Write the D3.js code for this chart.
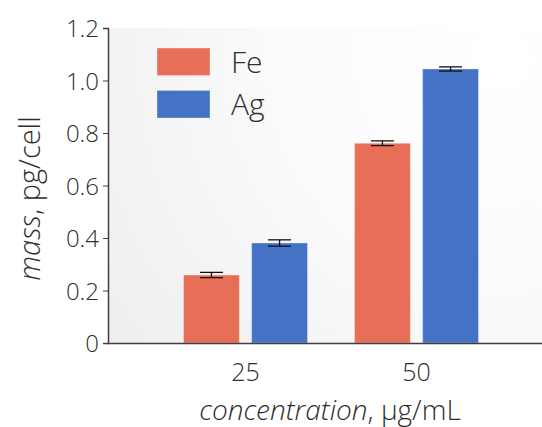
<!DOCTYPE html>
<html lang="en">
<head>
<meta charset="utf-8">
<title>mass per cell</title>
<script src="https://d3js.org/d3.v7.min.js"></script>
<style>
  body { margin: 0; background: #ffffff; }
  text { font-family: "Open Sans", sans-serif; font-weight: 300; fill: #2e2e2e; }
  .tick text { font-size: 24px; }
  .domain { stroke: #404040; stroke-width: 1.5px; }
  .tick line { stroke: #404040; }
  .legend text { font-size: 30px; }
</style>
</head>
<body>
<div id="chart"></div>
<script>
// data
const concentrations = ['25', '50'];
const series = ['Fe', 'Ag'];
const feMass = [0.259, 0.761];
const agMass = [0.381, 1.044];
const feErr = [0.010, 0.009];
const agErr = [0.012, 0.008];
const yTicks = [0, 0.2, 0.4, 0.6, 0.8, 1.0, 1.2];
const colours = ['#e76f58', '#4472c4'];

const W = 542, H = 427;
const plotLeft = 108, plotTop = 28, plotBottom = 343, plotRight = 542;

const svg = d3.select('#chart').append('svg')
  .attr('width', W).attr('height', H);

// background gradient of the plot area
const defs = svg.append('defs');
const grad = defs.append('radialGradient')
  .attr('id', 'bg').attr('gradientUnits', 'userSpaceOnUse')
  .attr('cx', 500).attr('cy', 60).attr('r', 480);
grad.append('stop').attr('offset', '0%').attr('stop-color', '#ffffff');
grad.append('stop').attr('offset', '45%').attr('stop-color', '#fbfbfb');
grad.append('stop').attr('offset', '100%').attr('stop-color', '#eeeeee');

svg.append('rect')
  .attr('x', plotLeft).attr('y', plotTop)
  .attr('width', plotRight - plotLeft).attr('height', plotBottom - plotTop)
  .attr('fill', 'url(#bg)');

const x0 = d3.scaleBand().domain(concentrations)
  .range([160, 502]).paddingInner(0.275).paddingOuter(0.1375);
const x1 = d3.scaleBand().domain(series)
  .range([0, x0.bandwidth()]).paddingInner(0.18);
const y = d3.scaleLinear().domain([0, 1.2]).range([plotBottom, plotTop]);

const rows = [];
concentrations.forEach((c, i) => {
  rows.push({ c: c, s: 'Fe', v: feMass[i], e: feErr[i] });
  rows.push({ c: c, s: 'Ag', v: agMass[i], e: agErr[i] });
});

// bars
svg.selectAll('rect.bar')
  .data(rows)
  .enter().append('rect')
  .attr('class', 'bar')
  .attr('x', d => x0(d.c) + x1(d.s))
  .attr('y', d => y(d.v))
  .attr('width', x1.bandwidth())
  .attr('height', d => y(0) - y(d.v))
  .attr('fill', d => colours[series.indexOf(d.s)])
  .attr('stroke', '#ffffff').attr('stroke-opacity', 0.35).attr('stroke-width', 1);

// error bars
const capW = 23;
const err = svg.selectAll('g.err').data(rows).enter().append('g')
  .attr('class', 'err')
  .attr('stroke', '#111').attr('stroke-width', 1.3);
err.append('line')
  .attr('x1', d => x0(d.c) + x1(d.s) + x1.bandwidth() / 2)
  .attr('x2', d => x0(d.c) + x1(d.s) + x1.bandwidth() / 2)
  .attr('y1', d => y(d.v + d.e)).attr('y2', d => y(d.v - d.e));
[1, -1].forEach(k => {
  err.append('line')
    .attr('x1', d => x0(d.c) + x1(d.s) + x1.bandwidth() / 2 - capW / 2)
    .attr('x2', d => x0(d.c) + x1(d.s) + x1.bandwidth() / 2 + capW / 2)
    .attr('y1', d => y(d.v + k * d.e)).attr('y2', d => y(d.v + k * d.e));
});

// y axis
svg.append('g')
  .attr('transform', `translate(${plotLeft},0)`)
  .call(d3.axisLeft(y).tickValues(yTicks).tickSize(5).tickPadding(4)
    .tickFormat(d => d === 0 ? '0' : d3.format('.1f')(d)))
  .call(g => g.selectAll('.tick text').attr('dy', '0.36em'));

// x axis
svg.append('g')
  .attr('transform', `translate(0,${plotBottom})`)
  .call(d3.axisBottom(x0).tickSize(0).tickPadding(20))
  .call(g => g.select('.domain').attr('d', `M${plotLeft},0.5H${plotRight}`))
  .call(g => g.selectAll('.tick text').style('font-size', '25px'));

// axis titles
svg.append('text')
  .attr('transform', `translate(40,${(plotTop + plotBottom) / 2 + 13}) rotate(-90)`)
  .attr('text-anchor', 'middle')
  .style('font-size', '29px')
  .html('<tspan font-style="italic">mass</tspan>, pg/cell');

svg.append('text')
  .attr('x', 330).attr('y', 420)
  .attr('text-anchor', 'middle')
  .style('font-size', '28px')
  .html('<tspan font-style="italic">concentration</tspan>, µg/mL');

// legend
const legend = svg.append('g').attr('class', 'legend');
const ly = d3.scaleBand().domain(series).range([48, 118]).paddingInner(0.35);
legend.selectAll('rect').data(series).enter().append('rect')
  .attr('x', 157).attr('y', d => ly(d))
  .attr('width', 53).attr('height', ly.bandwidth())
  .attr('fill', (d, i) => colours[i])
  .attr('stroke', '#ffffff').attr('stroke-opacity', 0.35);
legend.selectAll('text').data(series).enter().append('text')
  .attr('x', 231).attr('y', d => ly(d) + ly.bandwidth() / 2)
  .attr('dy', '0.36em')
  .text(d => d);
</script>
</body>
</html>
